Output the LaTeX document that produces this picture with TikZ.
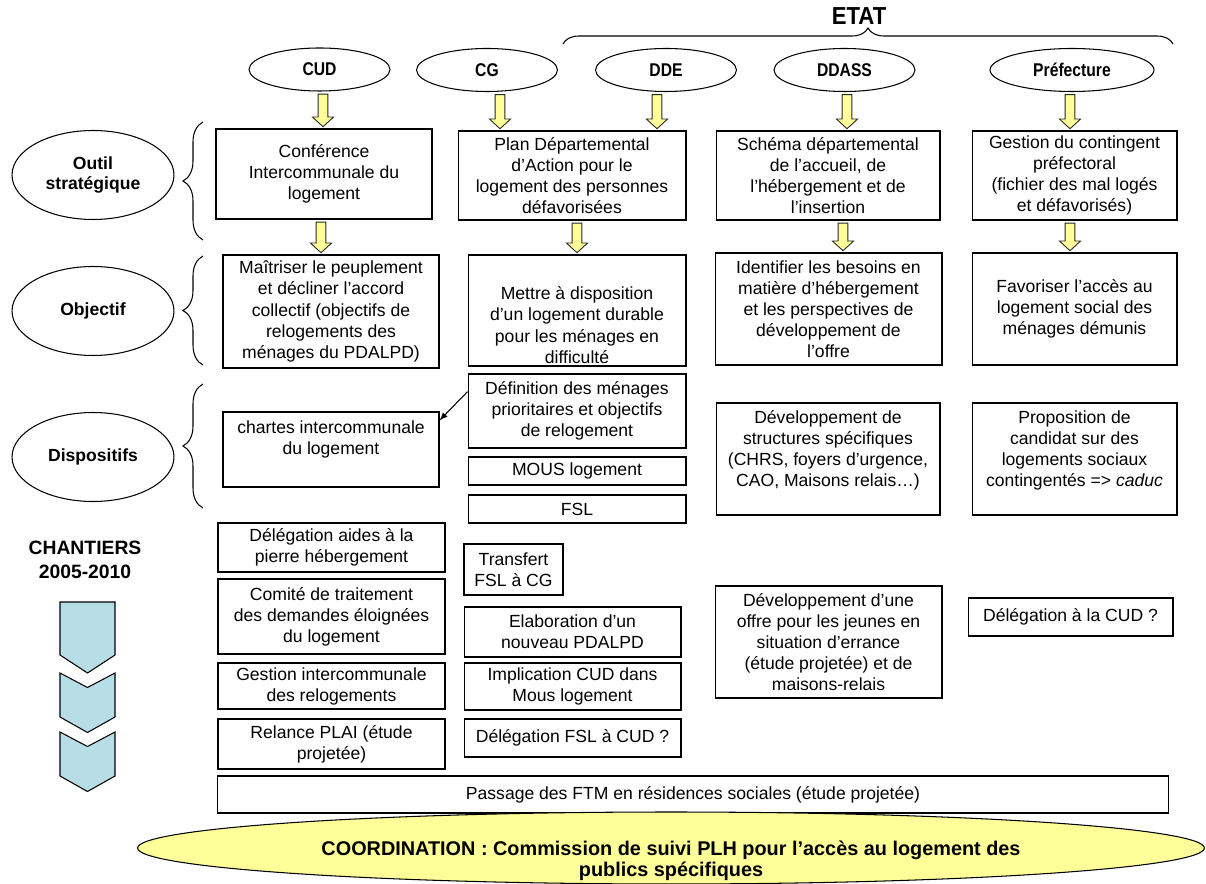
\documentclass[tikz,border=0pt]{standalone}
\usepackage{fontspec}
\setmainfont{Liberation Sans}
\usetikzlibrary{shapes,arrows,positioning,calc,decorations.pathreplacing}
\definecolor{paleyellow}{RGB}{255,255,153}
\definecolor{paleblue}{RGB}{183,222,230}
\newcommand{\squeeze}[2][0.85]{\scalebox{#1}[1]{#2}}
% yellow block arrow, x taken from the first point
\newcommand{\yarrow}[2]{%
  \path let \p1=(#1), \p2=(#2) in
    [draw=black!85, fill=paleyellow, line width=0.5pt]
    (\x1-2.8pt,\y1-1.5pt) -- (\x1-2.8pt,\y2+6.5pt) -- (\x1-6pt,\y2+6.5pt) -- (\x1,\y2+1pt)
    -- (\x1+6pt,\y2+6.5pt) -- (\x1+2.8pt,\y2+6.5pt) -- (\x1+2.8pt,\y1-1.5pt) -- cycle;}

\begin{document}
\begin{tikzpicture}[x=0.02cm,y=-0.02cm]
  \tikzset{every node/.style={font=\fontsize{10}{12}\selectfont}}
  \tikzset{box/.style = {draw, line width=0.6pt, align=center, inner sep=2pt}}
  \tikzset{wh/.style 2 args = {minimum width=#1cm, minimum height=#2cm}}
  \tikzset{actor/.style = {ellipse, draw, line width=0.6pt, minimum width=2.82cm, minimum height=0.86cm, inner sep=1pt, font=\fontsize{10.5}{12}\selectfont\bfseries}}
  \tikzset{level/.style = {ellipse, draw, line width=0.6pt, minimum width=3.24cm, minimum height=1.78cm, inner sep=1pt, align=center, font=\fontsize{10}{11}\selectfont\bfseries}}
  \tikzset{lbrace/.style = {decorate, decoration={brace, amplitude=0.4cm}, line width=0.6pt}}
  \useasboundingbox (0,0) rectangle (1206,884);

  % actors
  \node[actor] (cud) at (319.5,69.5) {\squeeze{CUD}};
  \node[actor] (cg) at (487,70) {\squeeze{CG}};
  \node[actor] (dde) at (666,70) {\squeeze{DDE}};
  \node[actor] (ddass) at (844.5,70) {\squeeze{DDASS}};
  \node[actor, minimum width=3.28cm] (pref) at (1072,70) {\squeeze{Préfecture}};
  \node[font=\fontsize{14}{16}\selectfont\bfseries] (etat) at (859,16) {\squeeze[0.9]{ETAT}};
  \draw[decorate, decoration={brace, amplitude=0.32cm}, line width=0.6pt] (563,44) -- (1173,44);

  % levels
  \node[level] (outil) at (93,175) {Outil\\stratégique};
  \node[level] (objectif) at (93,311) {Objectif};
  \node[level] (dispo) at (93,457) {Dispositifs};
  \draw[lbrace] (203,240) -- (203,122);
  \draw[lbrace] (203,365) -- (203,256);
  \draw[lbrace] (203,508) -- (203,384);

  % outil strategique
  \node[box, wh={4.32}{1.8}] (a1) at (324,174) {Conférence\\Intercommunale du\\logement};
  \node[box, wh={4.56}{1.78}] (b1) at (572,175.5) {Plan Départemental\\d’Action pour le\\logement des personnes\\défavorisées};
  \node[box, wh={4.48}{1.78}] (c1) at (828,175.5) {Schéma départemental\\de l’accueil, de\\l’hébergement et de\\l’insertion};
  \node[box, wh={4.1}{1.78}] (d1) at (1074.5,175.5) {Gestion du contingent\\préfectoral\\(fichier des mal logés\\et défavorisés)};

  % objectif
  \node[box, wh={4.32}{2.26}] (a2) at (331,311.5) {Maîtriser le peuplement\\et décliner l’accord\\collectif (objectifs de\\relogements des\\ménages du PDALPD)};
  \node[box, wh={4.36}{2.22}, inner ysep=0pt] (b2) at (577,310.5) {\mbox{}\\[12pt]Mettre à disposition\\d’un logement durable\\pour les ménages en\\difficulté};
  \node[box, wh={4.54}{2.24}] (c2) at (828.5,309) {Identifier les besoins en\\matière d’hébergement\\et les perspectives de\\développement de\\l’offre};
  \node[box, wh={4.1}{2.24}] (d2) at (1074.5,309) {Favoriser l’accès au\\logement social des\\ménages démunis};

  % dispositifs
  \node[box, wh={4.32}{1.5}] (a3) at (331,449.5) {chartes intercommunale\\du logement\\[2pt]\mbox{}};
  \node[box, wh={4.36}{1.48}] (b3a) at (577,411) {Définition des ménages\\prioritaires et objectifs\\de relogement};
  \node[box, wh={4.36}{0.56}] (b3b) at (577,471) {MOUS logement};
  \node[box, wh={4.36}{0.56}] (b3c) at (577,509) {FSL};
  \node[box, wh={4.48}{2.24}] (c3) at (828,459) {Développement de\\structures spécifiques\\(CHRS, foyers d’urgence,\\CAO, Maisons relais…)\\\mbox{}};
  \node[box, wh={4.1}{2.24}] (d3) at (1074.5,459) {Proposition de\\candidat sur des\\logements sociaux\\contingentés => \textit{caduc}\\\mbox{}};
  \draw[->, >=latex, line width=0.6pt] (b3a.170) -- (a3.15);

  % chantiers
  \node[font=\fontsize{11}{13.6}\selectfont\bfseries, align=center] (chantiers) at (85,560) {CHANTIERS\\2005-2010};
  \filldraw[fill=paleblue, line width=0.6pt] (60,602) -- (115,602) -- (115,655) -- (87.5,673) -- (60,655) -- cycle;
  \foreach \t in {673,732}
    \filldraw[fill=paleblue, line width=0.6pt] (60,\t) -- (87.5,\t+14.5) -- (115,\t) -- (115,\t+44) -- (87.5,\t+59.5) -- (60,\t+44) -- cycle;

  \node[box, wh={4.54}{0.98}] (e1) at (331.5,547.5) {Délégation aides à la\\pierre hébergement};
  \node[box, wh={4.54}{1.5}] (e2) at (331.5,616.5) {Comité de traitement\\des demandes éloignées\\du logement};
  \node[box, wh={4.54}{0.92}] (e3) at (331.5,686) {Gestion intercommunale\\des relogements};
  \node[box, wh={4.54}{1.0}] (e4) at (331.5,744) {Relance PLAI (étude\\projetée)};
  \node[box, wh={1.98}{1.02}] (f1) at (513.5,569.5) {Transfert\\FSL à CG};
  \node[box, wh={4.34}{1.0}] (f2) at (572.5,632) {Elaboration d’un\\nouveau PDALPD};
  \node[box, wh={4.34}{0.94}] (f3) at (572.5,686.5) {Implication CUD dans\\Mous logement};
  \node[box, wh={4.34}{0.76}] (f4) at (572.5,738) {Délégation FSL à CUD ?};
  \node[box, wh={4.54}{2.24}] (g) at (828.5,642) {Développement d’une\\offre pour les jeunes en\\situation d’errance\\(étude projetée) et de\\maisons-relais};
  \node[box, wh={4.1}{0.76}] (h) at (1070.5,617) {Délégation à la CUD ?};
  \node[box, wh={19.04}{0.74}] (passage) at (693,794.5) {Passage des FTM en résidences sociales (étude projetée)};

  % coordination
  \node[ellipse, draw, line width=0.6pt, fill=paleyellow, minimum width=21.34cm, minimum height=1.44cm, inner sep=0pt] (coord) at (671,848) {};
  \node[align=center, font=\fontsize{11.3}{11.8}\selectfont\bfseries] (coordtext) at (671,861)
    {COORDINATION : Commission de suivi PLH pour l’accès au logement des\\publics spécifiques};

  % yellow arrows
  \yarrow{[xshift=0.07cm]cud.south}{a1.north}
  \yarrow{[xshift=0.26cm]cg.south}{b1.north}
  \yarrow{[xshift=-0.18cm]dde.south}{b1.north}
  \yarrow{[xshift=0.05cm]ddass.south}{c1.north}
  \yarrow{[xshift=-0.04cm]pref.south}{d1.north}
  \yarrow{[xshift=-0.06cm]a1.south}{a2.north}
  \yarrow{[xshift=0.1cm]b1.south}{b2.north}
  \yarrow{[xshift=0.3cm]c1.south}{c2.north}
  \yarrow{[xshift=-0.09cm]d1.south}{d2.north}
\end{tikzpicture}
\end{document}
